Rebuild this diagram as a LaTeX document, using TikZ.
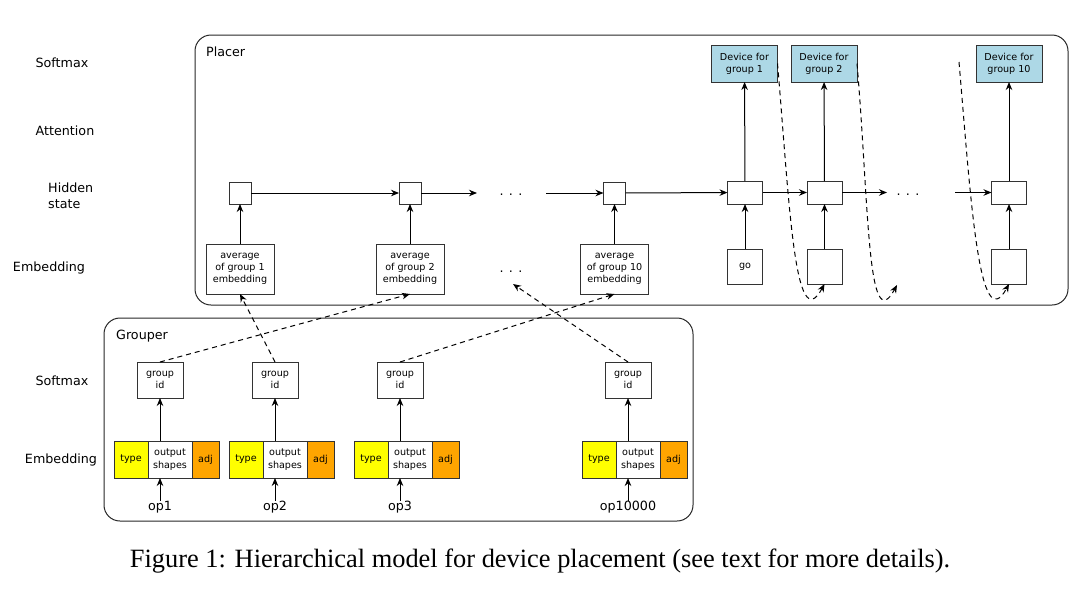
\documentclass[tikz,border=0pt]{standalone}
\usepackage{fontspec}
\setmainfont{DejaVu Sans}
\newfontfamily\capfont{Liberation Serif}
\usetikzlibrary{arrows.meta}
\definecolor{devblue}{HTML}{ADD8E6}
\definecolor{typeyellow}{HTML}{FFFF00}
\definecolor{adjorange}{HTML}{FFA500}
\begin{document}
\begin{tikzpicture}[x=1pt,y=-1pt,>={Stealth[length=8pt,width=6.5pt]}]
\tikzstyle{every node}+=[inner sep=0pt]
\tikzstyle{box}=[draw=black!80,line width=1pt,fill=white,align=center,outer sep=0pt,font=\fontsize{9.6}{12.3}\selectfont]
\tikzstyle{lbl}=[font=\fontsize{12.7}{15.5}\selectfont,align=left]
\tikzstyle{edge}=[->,line width=1pt]
\tikzstyle{link}=[->,line width=1pt,dash pattern=on 5pt off 4pt]
\tikzstyle{frame}=[draw=black!85,line width=1pt,rounded corners=16pt]
\useasboundingbox (0,0) rectangle (1090,592);
% row labels
\node[lbl] (psoft) at (62,63) {Softmax};
\node[lbl] (patt) at (65,131) {Attention};
\node[lbl,anchor=west] (phid) at (48,196) {Hidden\\state};
\node[lbl] (pemb) at (49,268) {Embedding};
\node[lbl] (gsoft) at (62,381) {Softmax};
\node[lbl] (gemb) at (61,460) {Embedding};
% placer
\draw[frame] (195,35) rectangle (1068,305);
\node[lbl,anchor=west] (placer) at (206,52) {Placer};
\node[box,minimum width=68,minimum height=50] (avg1) at (240,269) {average\\of group 1\\embedding};
\node[box,minimum width=68,minimum height=50] (avg2) at (410,269) {average\\of group 2\\embedding};
\node[box,minimum width=68,minimum height=50] (avg10) at (614.5,269) {average\\of group 10\\embedding};
\node[lbl] (avgdots) at (511,272) {. . .};
\node[box,minimum size=22] (sq1) at (240,193) {};
\node[box,minimum size=22] (sq2) at (410,193) {};
\node[box,minimum size=22] (sq10) at (614.5,193) {};
\node[lbl] (sqdots) at (511,195) {. . .};
\coordinate (sqgap1) at (477,193);
\coordinate (sqgap2) at (546,193);
\node[box,minimum width=35,minimum height=23] (cell1) at (745,192.5) {};
\node[box,minimum width=35,minimum height=23] (cell2) at (824.5,192.5) {};
\node[box,minimum width=35,minimum height=23] (cell10) at (1009,192.5) {};
\node[lbl] (celldots) at (908,195) {. . .};
\coordinate (cellgap1) at (887,192.5);
\coordinate (cellgap2) at (955,192.5);
\node[box,minimum size=35] (emb1) at (745,266.5) {go};
\node[box,minimum size=35] (emb2) at (824.5,266.5) {};
\node[box,minimum size=35] (emb10) at (1009,266.5) {};
\node[box,fill=devblue,minimum width=66,minimum height=37] (dev1) at (744.5,63.5) {Device for\\group 1};
\node[box,fill=devblue,minimum width=66,minimum height=37] (dev2) at (824,63.5) {Device for\\group 2};
\node[box,fill=devblue,minimum width=66,minimum height=37] (dev10) at (1009,63.5) {Device for\\group 10};
\foreach \j in {1,2,10} {
  \draw[edge] (avg\j) -- (sq\j);
  \draw[edge] (emb\j) -- (cell\j);
  \draw[edge] (cell\j) -- (dev\j);
}
\draw[edge] (sq1) -- (sq2);
\draw[edge] (sq2) -- (sqgap1);
\draw[edge] (sqgap2) -- (sq10);
\draw[edge] (sq10) -- (cell1);
\draw[edge] (cell1) -- (cell2);
\draw[edge] (cell2) -- (cellgap1);
\draw[edge] (cellgap2) -- (cell10);
% feed back the chosen device
\coordinate (nextemb) at (897,285);
\coordinate (prevdev) at (959,62);
\draw[link] (dev1.east) .. controls +(12,140) and +(-30,55) .. (emb2.south);
\draw[link] (dev2.east) .. controls +(12,140) and +(-30,55) .. (nextemb);
\draw[link] (prevdev) .. controls +(12,140) and +(-30,55) .. (emb10.south);
% grouper
\draw[frame] (104,318) rectangle (693,521);
\node[lbl,anchor=west] (grouper) at (116,336) {Grouper};
\foreach \i/\x/\opname in {1/160/op1,2/275/op2,3/400/op3,4/628/op10000} {
  \node[box,minimum width=46,minimum height=36] (gid\i) at (\x,380) {group\\id};
  \node[box,minimum width=44,minimum height=37] (out\i) at (\x+10,459.5) {output\\shapes};
  \node[box,fill=typeyellow,minimum width=34,minimum height=37,anchor=east] (type\i) at (out\i.west) {type};
  \node[box,fill=adjorange,minimum width=27,minimum height=37,anchor=west] (adj\i) at (out\i.east) {adj};
  \node[lbl] (op\i) at (\x,507) {\opname};
  \draw[edge] (op\i) -- (op\i |- out\i.south);
  \draw[edge] (op\i |- out\i.north) -- (gid\i);
}
\coordinate (avgend) at (513,284);
\draw[link] (gid1.north) -- (avg2.south);
\draw[link] (gid2.north) -- (avg1.south);
\draw[link] (gid3.north) -- (avg10.south);
\draw[link] (gid4.north) -- (avgend);
% caption
\node[anchor=base,font=\capfont\fontsize{26.4}{30}\selectfont] (caption) at (540,567) {Figure 1: Hierarchical model for device placement (see text for more details).};
\end{tikzpicture}
\end{document}
